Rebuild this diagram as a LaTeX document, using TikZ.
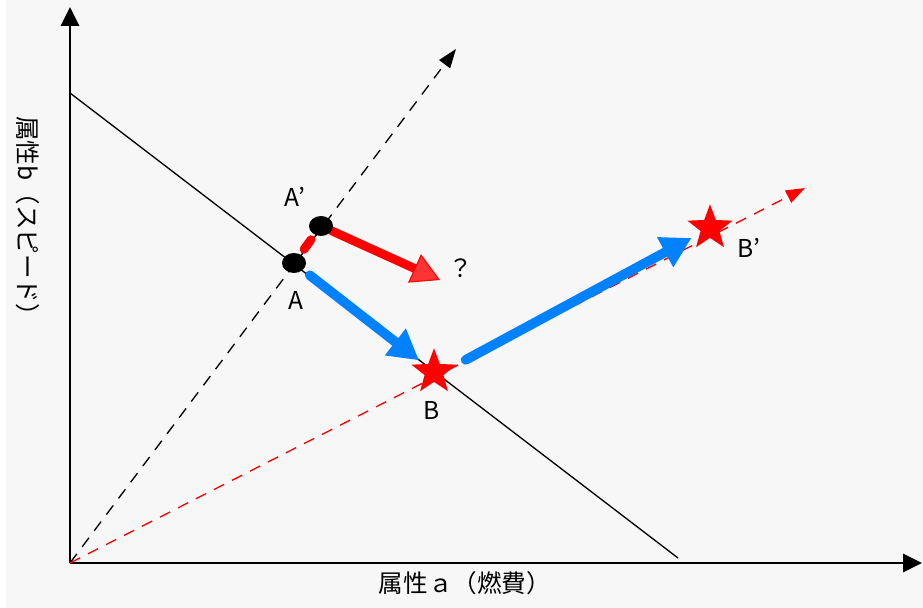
\documentclass[tikz,border=0pt]{standalone}
\usepackage{fontspec}
\setmainfont{Noto Sans CJK JP}
\usetikzlibrary{arrows.meta,shapes.geometric}
\definecolor{paper}{RGB}{247,247,247}
\definecolor{moveblue}{RGB}{0,130,255}
\pgfdeclarelayer{back}
\pgfsetlayers{back,main}

\begin{document}
\begin{tikzpicture}[x=0.02cm,y=-0.02cm,line cap=round,line join=round,
    lbl/.style={font=\fontsize{14}{16}\selectfont,inner sep=1pt},
    axis/.style={line width=1.7pt,line cap=butt,-{Triangle[length=0.38cm,width=0.36cm]}},
    guide/.style={line width=0.75pt,line cap=butt,dash pattern=on 6.5pt off 5pt,
                  -{Triangle[length=0.38cm,width=0.27cm]}},
    dot/.style={ellipse,fill=black,minimum width=0.48cm,minimum height=0.4cm,inner sep=0pt},
    redstar/.style={star,star points=5,star point ratio=2.4,fill=red,
                    minimum size=0.95cm,inner sep=0pt},
    move/.style={line width=5.5pt,line cap=round,draw=moveblue,
                 -{Triangle[length=0.6cm,width=0.64cm,fill=moveblue]}},
    wish/.style={line width=5pt,line cap=round,draw=red,
                 -{Triangle[length=0.56cm,width=0.62cm,fill=red!80,line width=0.6pt]}}]
  \useasboundingbox (0,0) rectangle (923,608);

  % --- points ---
  \coordinate (O) at (70,563);
  \coordinate (ytop) at (70,7);
  \coordinate (xend) at (922,563);
  \coordinate (lineS) at (70,93);
  \coordinate (lineE) at (678,558);
  \coordinate (blackend) at (456,49);
  \coordinate (redend) at (805,188);
  \coordinate (wishend) at (440,280);
  \node[dot] (A) at (294,263) {};
  \node[dot] (Ap) at (321,226) {};
  \node[redstar] (B) at (434,372) {};
  \node[redstar] (Bp) at (710,228) {};

  % --- labels ---
  \node[lbl] (lA) at (296,300) {A};
  \node[lbl] (lAp) at (295,197) {A'};
  \node[lbl] (lq) at (461,268) {？};
  \node[lbl] (lB) at (432,410) {B};
  \node[lbl] (lBp) at (749,248) {B'};
  \node[lbl] (xlab) at (465,583) {属性ａ（燃費）};
  \node[lbl,rotate=-90] (ylab) at (28,222) {属性b（スピード）};

  \begin{pgfonlayer}{back}
    \fill[white] (0,0) rectangle (923,608);
    \fill[paper] (6,0) rectangle (923,608);
    % --- axes and lines ---
    \draw[axis] (O) -- (ytop);
    \draw[axis] (O) -- (xend);
    \draw[line width=0.75pt] (lineS) -- (lineE);
    \draw[guide] (O) -- (blackend);
    \draw[guide,red] (O) -- (redend);
    % --- moves ---
    \draw[line width=5pt,line cap=round,red,shorten <=0.34cm,shorten >=0.34cm] (A.center) -- (Ap.center);
    \draw[wish,shorten <=0.24cm] (Ap.center) -- (wishend);
    \draw[move,shorten <=0.4cm,shorten >=0.38cm] (A.center) -- (B.center);
    \draw[move,shorten <=0.72cm,shorten >=0.42cm] ([yshift=-0.1cm]B.center) -- (Bp.center);
  \end{pgfonlayer}
\end{tikzpicture}
\end{document}
